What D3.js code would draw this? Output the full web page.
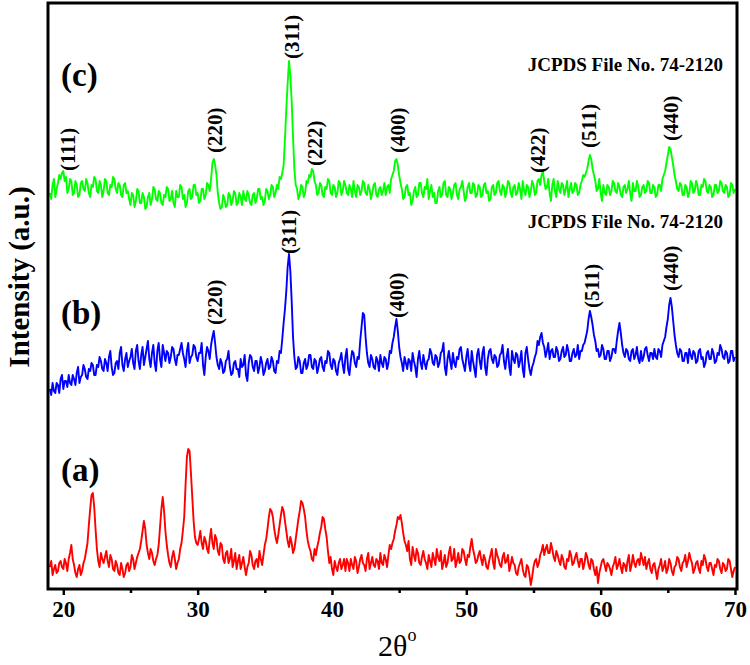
<!DOCTYPE html>
<html><head><meta charset="utf-8">
<script src="https://cdn.jsdelivr.net/npm/d3@7"></script>
<style>body{margin:0;background:#fff}svg{display:block}text{font-family:"Liberation Serif","Times New Roman",serif}</style>
</head><body><div id="chart"></div>
<script>
// 2θ grid: 19.0 .. 70.0 step 0.1 (511 points)
const twoThetaStart = 19.0, twoThetaStep = 0.1;
// (a) red trace, stacked intensity (a.u.)
const seriesA = [
22,28,14,20,24,16,18,26,28,22,20,30,26,18,30,36,44,30,24,16,
12,20,24,14,18,26,30,38,46,64,80,94,96,82,60,40,28,22,36,30,
26,32,38,28,22,34,30,20,18,28,24,16,14,26,20,12,16,24,26,18,
22,34,30,20,26,32,36,40,48,58,68,60,44,36,30,40,36,28,24,30,
34,44,62,80,92,78,58,44,34,26,22,32,38,30,20,26,30,40,46,58,
72,104,132,140,138,116,92,68,52,46,44,50,58,46,40,52,48,40,36,50,
60,46,40,54,50,38,34,46,44,30,26,36,38,26,30,40,22,28,36,20,
28,34,20,26,32,22,14,22,26,38,34,24,20,28,30,22,38,30,24,34,
44,50,60,72,80,78,72,60,52,46,54,64,74,82,78,68,58,48,42,52,
46,36,40,50,60,70,78,88,86,80,72,58,48,42,38,30,28,40,34,42,
48,56,62,72,70,60,52,38,26,32,20,14,28,22,18,26,30,20,24,30,
18,30,26,18,30,24,20,32,28,16,22,30,34,26,24,18,30,36,20,26,
32,24,22,30,28,20,36,26,24,34,30,22,34,44,40,46,50,58,64,72,
70,74,66,56,48,44,38,48,30,24,42,34,28,40,36,26,24,32,38,30,
26,20,34,28,22,36,30,24,40,32,28,38,20,26,34,22,26,36,42,28,
30,40,22,28,36,26,28,40,38,30,24,34,32,42,50,40,34,26,28,34,
38,30,24,34,30,22,20,28,34,40,26,20,40,34,30,24,22,32,36,26,
28,34,18,24,32,26,24,16,14,22,26,30,20,14,12,24,22,14,4,12,
22,28,30,22,26,34,38,44,34,40,44,36,36,46,40,32,28,38,34,28,
24,34,30,22,20,30,28,38,34,24,26,32,36,28,22,30,30,20,26,36,
32,24,20,30,28,20,14,22,6,16,22,28,30,24,18,26,24,20,14,22,
26,32,20,24,30,22,16,26,24,18,28,34,18,24,34,26,22,28,30,24,
36,30,24,32,20,26,30,20,16,24,26,18,10,20,24,30,18,22,28,16,
20,30,26,18,14,22,24,32,30,22,18,26,28,34,22,28,36,30,26,16,
20,26,28,20,16,28,24,34,30,22,18,26,26,20,14,24,22,30,28,20,
16,26,24,18,20,30,28,20,12,18,22];
// (b) blue trace
const seriesB = [
200,194,206,198,196,206,204,196,210,214,200,208,208,202,214,206,204,214,210,204,
216,222,206,212,214,224,220,212,210,220,218,226,224,214,214,224,222,232,228,220,
218,230,226,218,232,238,222,214,216,226,228,220,236,242,224,218,230,236,222,228,
232,240,226,220,238,244,228,220,234,242,224,232,240,248,230,222,236,244,226,218,
238,246,230,222,244,236,228,238,236,226,232,242,240,230,224,234,234,240,246,236,
230,222,238,246,226,232,234,244,242,232,228,236,236,246,224,214,232,242,238,230,
244,252,258,246,232,224,220,230,226,216,218,228,230,238,222,214,216,226,228,220,
220,212,230,222,224,234,214,208,226,234,232,222,218,228,228,216,222,232,226,214,
218,226,230,220,222,232,228,218,216,228,226,238,236,250,266,280,298,322,335,318,
288,252,232,220,222,232,228,216,216,226,230,220,224,234,234,222,220,230,228,216,
222,230,232,222,218,228,226,238,236,224,220,230,228,218,214,226,230,236,224,216,
232,240,220,214,228,238,236,226,222,232,230,248,262,276,274,252,236,226,222,234,
230,222,220,232,228,218,234,226,222,232,230,220,226,238,236,246,252,262,270,258,
242,232,226,218,232,226,220,230,228,218,236,228,222,212,230,238,226,220,234,226,
220,228,230,240,236,226,224,234,232,222,226,236,238,246,222,214,230,238,228,220,
236,226,222,232,230,240,242,230,224,218,232,240,226,218,238,228,220,212,234,240,
228,220,236,242,222,214,230,238,240,230,226,234,232,222,224,234,236,244,228,220,
232,240,222,214,238,230,226,236,234,222,228,238,220,212,236,242,230,220,214,222,
226,232,236,248,244,252,256,246,242,232,238,246,230,238,240,232,232,242,238,228,
230,238,242,232,234,244,238,228,228,236,240,232,234,244,230,238,238,244,246,252,
258,270,278,272,264,254,248,238,240,232,234,244,240,230,230,238,238,228,232,240,
240,236,248,258,266,256,244,236,232,240,238,230,228,238,240,230,234,242,230,226,
238,228,232,240,242,234,228,236,236,230,240,232,230,240,238,232,244,248,252,262,
270,284,291,282,268,254,244,236,232,240,238,228,228,236,236,226,240,234,230,238,
236,226,228,238,240,230,232,222,226,236,238,230,230,240,236,226,228,236,234,244,
240,232,230,238,236,226,228,238,238,228,232];
// (c) green trace
const seriesC = [
396,390,404,410,392,400,406,414,410,416,418,408,412,396,400,410,408,394,396,408,
404,392,394,406,408,400,398,410,406,396,392,404,402,412,410,398,396,408,404,392,
398,410,408,396,394,404,402,412,410,400,396,406,404,394,392,404,406,396,398,390,
384,396,394,382,388,400,398,386,386,396,392,380,382,392,396,384,390,402,400,390,
388,398,396,386,384,394,392,402,400,388,390,398,386,382,398,392,392,404,402,390,
394,382,386,398,400,390,392,404,404,394,396,386,388,400,400,390,394,406,404,398,
410,426,430,424,414,396,386,380,382,394,390,382,384,396,394,384,388,398,396,384,
386,396,392,384,398,390,388,398,394,386,384,394,396,386,390,400,400,390,392,384,
388,400,398,390,394,404,402,392,396,404,400,412,410,416,424,450,480,506,528,514,
488,452,420,404,400,390,394,404,402,392,396,408,406,414,412,420,418,408,404,394,
396,406,404,394,392,402,400,410,408,396,394,404,402,392,396,408,406,394,398,408,
404,396,394,404,400,392,408,398,392,404,402,394,398,408,406,396,394,404,400,390,
396,404,406,394,392,400,402,394,398,406,394,402,404,396,410,414,418,428,430,424,
414,406,400,390,392,402,404,394,396,384,388,398,402,392,394,406,406,396,392,402,
400,410,390,398,404,392,396,386,386,398,402,392,394,406,408,394,392,402,400,390,
396,404,406,394,390,400,402,408,398,388,392,402,406,396,396,406,404,392,394,404,
402,392,394,404,406,396,398,388,390,402,404,394,396,406,408,398,394,404,402,392,
398,408,406,396,392,402,404,394,396,406,400,390,408,398,394,404,402,392,398,408,
404,394,396,408,410,404,414,418,408,400,402,410,396,388,404,410,398,392,408,400,
396,406,404,394,400,408,392,400,406,396,398,406,404,394,396,404,408,414,412,416,
420,428,434,430,420,414,408,398,400,410,396,388,404,396,394,404,402,394,398,408,
406,398,396,406,402,394,392,402,404,396,400,408,396,388,406,398,398,408,402,392,
394,402,404,396,398,408,406,396,396,404,402,392,394,404,404,398,410,414,418,426,
434,442,440,432,424,414,408,400,398,406,404,394,394,404,402,392,396,408,406,396,
398,408,404,394,394,404,402,410,408,398,396,404,402,392,394,404,404,396,398,408,
406,398,396,404,402,392,394,406,404,396,400];
const seriesNames = ["(a)", "(b)", "(c)"];
const seriesColors = ["#ff0000", "#0000ff", "#00ff00"];
const seriesNameY = [108, 265, 503];   // label baseline in intensity units
const xTicks = [20, 30, 40, 50, 60, 70];
const xMinorTicks = [25, 35, 45, 55, 65];
// peak annotations: [2θ, label-bottom intensity, text]
const peaksC = [[20.3,418,"(111)"],[31.3,436,"(220)"],[37.0,530,"(311)"],[38.7,423,"(222)"],[44.9,436,"(400)"],[55.3,416,"(422)"],[59.1,441,"(511)"],[65.2,448,"(440)"]];
const peaksB = [[31.3,264,"(220)"],[36.8,335,"(311)"],[44.8,271,"(400)"],[59.3,281,"(511)"],[65.2,298,"(440)"]];
const jcpdsText = "JCPDS File No. 74-2120";
const jcpdsY = [518, 361];

const W = 750, H = 665;
const mLeft = 48, mRight = 737, mTop = 3, mBottom = 589;
const svg = d3.select("#chart").append("svg").attr("width", W).attr("height", H);
const x = d3.scaleLinear().domain([18.86, 70.15]).range([mLeft, mRight]);
const y = d3.scaleLinear().domain([0, 586]).range([mBottom, mTop]);

const line = d3.line().x((d, i) => x(twoThetaStart + i * twoThetaStep)).y(d => y(d));
svg.append("clipPath").attr("id", "clp").append("rect")
  .attr("x", mLeft).attr("y", mTop).attr("width", mRight - mLeft).attr("height", mBottom - mTop);
const plot = svg.append("g").attr("clip-path", "url(#clp)");
[seriesA, seriesB, seriesC].forEach((s, k) => {
  plot.append("path").datum(s).attr("d", line).attr("fill", "none")
    .attr("stroke", seriesColors[k]).attr("stroke-width", 1.9).attr("stroke-linejoin", "round");
});

// frame
svg.append("rect").attr("x", mLeft).attr("y", mTop).attr("width", mRight - mLeft).attr("height", mBottom - mTop)
  .attr("fill", "none").attr("stroke", "#000").attr("stroke-width", 3);

// x axis
const xAxis = d3.axisBottom(x).tickValues(xTicks).tickSize(6).tickPadding(6).tickFormat(d3.format("d"));
const gx = svg.append("g").attr("transform", `translate(0,${mBottom})`).call(xAxis);
gx.select(".domain").remove();
gx.selectAll(".tick line").attr("stroke", "#000").attr("stroke-width", 2.5);
gx.selectAll(".tick text").attr("font-family", "Liberation Serif, serif").attr("font-weight", "bold")
  .attr("font-size", 23).attr("fill", "#000");
const gxm = svg.append("g").attr("transform", `translate(0,${mBottom})`)
  .call(d3.axisBottom(x).tickValues(xMinorTicks).tickSize(4).tickFormat(""));
gxm.select(".domain").remove();
gxm.selectAll(".tick line").attr("stroke", "#000").attr("stroke-width", 2.5);

// axis titles
const xt = svg.append("text").attr("x", 378).attr("y", 656).attr("font-size", 30).attr("fill", "#000");
xt.append("tspan").text("2θ");
xt.append("tspan").attr("font-size", 18).attr("dy", -15).text("o");
svg.append("text").attr("transform", "translate(29,277) rotate(-90)").attr("text-anchor", "middle")
  .attr("font-size", 29).attr("font-weight", "bold").attr("fill", "#000").text("Intensity (a.u.)");

// series names
seriesNames.forEach((n, k) => {
  svg.append("text").attr("x", 61).attr("y", y(seriesNameY[k])).attr("font-size", 33)
    .attr("font-weight", "bold").attr("fill", "#000").text(n);
});

// peak labels
[...peaksC, ...peaksB].forEach(p => {
  svg.append("text").attr("transform", `translate(${x(p[0])},${y(p[1])}) rotate(-90)`)
    .attr("dy", "0.35em").attr("font-size", 21).attr("font-weight", "bold").attr("fill", "#000").text(p[2]);
});

// JCPDS
jcpdsY.forEach(v => {
  svg.append("text").attr("x", 723).attr("y", y(v)).attr("text-anchor", "end")
    .attr("font-size", 19).attr("font-weight", "bold").attr("fill", "#000").text(jcpdsText);
});
</script></body></html>
